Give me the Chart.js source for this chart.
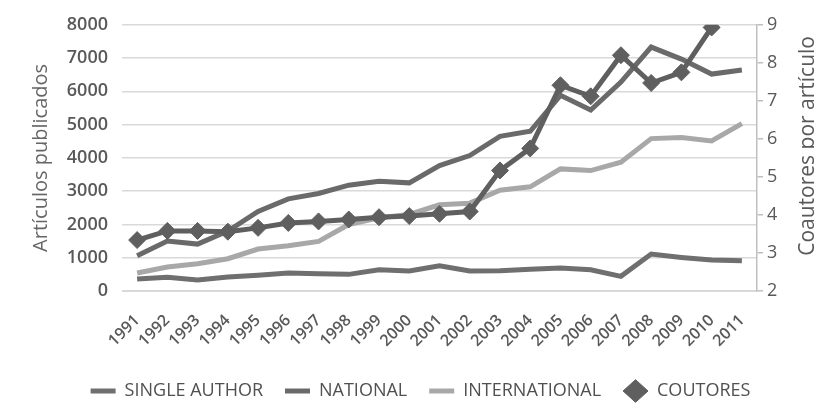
<!DOCTYPE html>
<html>
<head>
<meta charset="utf-8">
<script src="https://cdn.jsdelivr.net/npm/chart.js@4/dist/chart.umd.min.js"></script>
<style>
    html, body { margin: 0; padding: 0; background: #ffffff; }
    #wrap { width: 814px; height: 406px; }
</style>
</head>
<body>
<div id="wrap"><canvas id="mainChart" width="814" height="406"></canvas></div>
<script>
// ================= DATA =================
const years = ["1991", "1992", "1993", "1994", "1995", "1996", "1997", "1998", "1999", "2000",
    "2001", "2002", "2003", "2004", "2005", "2006", "2007", "2008", "2009", "2010", "2011"];

const singleAuthor = [360, 410, 330, 420, 470, 540, 520, 500, 640, 600,
    760, 600, 610, 650, 690, 640, 440, 1110, 1010, 930, 910];

const national = [1060, 1500, 1410, 1800, 2390, 2770, 2930, 3180, 3300, 3250,
    3770, 4070, 4650, 4800, 5880, 5440, 6280, 7330, 6970, 6520, 6640];

const international = [540, 720, 820, 970, 1260, 1360, 1490, 2000, 2200, 2300,
    2590, 2640, 3030, 3130, 3670, 3620, 3870, 4580, 4610, 4510, 5030];

// coautores por articulo (eje derecho), no hay valor para 2011
const coutores = [3.34, 3.58, 3.58, 3.56, 3.66, 3.79, 3.83, 3.88, 3.94, 3.97,
    4.03, 4.09, 5.17, 5.75, 7.41, 7.12, 8.20, 7.47, 7.75, 8.93, null];

const leftTitle = "Artículos publicados";
const rightTitle = "Coautores por artículo";

// ================= STYLE =================
const textGray = "#595959";
const gridGray = "#d9d9d9";

// right axis title reads bottom-to-top like the left one
const rightTitlePlugin = {
    id: "rightTitle",
    afterDraw(chart) {
        const ctx = chart.ctx;
        const area = chart.chartArea;
        ctx.save();
        ctx.translate(814, (area.top + area.bottom) / 2 - 12);
        ctx.rotate(-Math.PI / 2);
        ctx.font = "21px 'Open Sans'";
        ctx.fillStyle = textGray;
        ctx.textAlign = "center";
        ctx.textBaseline = "alphabetic";
        ctx.fillText(rightTitle, 0, 0);
        ctx.restore();
    }
};

// ================= CHART =================
window.onload = function () {
    new Chart(document.getElementById("mainChart"), {
        type: "line",
        data: {
            labels: years,
            datasets: [
                {
                    label: "SINGLE AUTHOR",
                    data: singleAuthor,
                    borderColor: "#6f6f6f",
                    backgroundColor: "#6f6f6f",
                    borderWidth: 5,
                    pointRadius: 0,
                    pointStyle: "line",
                    yAxisID: "y",
                    order: 3
                },
                {
                    label: "NATIONAL",
                    data: national,
                    borderColor: "#6a6a6a",
                    backgroundColor: "#6a6a6a",
                    borderWidth: 5,
                    pointRadius: 0,
                    pointStyle: "line",
                    yAxisID: "y",
                    order: 2
                },
                {
                    label: "INTERNATIONAL",
                    data: international,
                    borderColor: "#a8a8a8",
                    backgroundColor: "#a8a8a8",
                    borderWidth: 5,
                    pointRadius: 0,
                    pointStyle: "line",
                    yAxisID: "y",
                    order: 1
                },
                {
                    label: "COUTORES",
                    data: coutores,
                    borderColor: "#5f5f5f",
                    backgroundColor: "#5f5f5f",
                    borderWidth: 5,
                    pointRadius: 8.5,
                    pointStyle: "rectRot",
                    pointBorderWidth: 1,
                    yAxisID: "y1",
                    order: 0
                }
            ]
        },
        options: {
            responsive: false,
            animation: false,
            layout: { padding: { left: 27, right: 0, top: 20, bottom: -4 } },
            plugins: {
                tooltip: { enabled: false },
                legend: {
                    position: "bottom",
                    labels: {
                        usePointStyle: true,
                        pointStyleWidth: 25,
                        boxHeight: 16,
                        padding: 22,
                        color: "#505050",
                        font: { family: "'Open Sans'", size: 18 },
                        sort: (a, b) => a.datasetIndex - b.datasetIndex
                    }
                }
            },
            scales: {
                x: {
                    offset: true,
                    grid: { display: false },
                    border: { display: true, color: gridGray },
                    ticks: {
                        autoSkip: false,
                        color: textGray,
                        font: { family: "'Open Sans'", size: 16, weight: "600" },
                        minRotation: 45,
                        maxRotation: 45,
                        padding: 12
                    },
                    afterFit: (scale) => { scale.height = 69; }
                },
                y: {
                    position: "left",
                    min: 0,
                    max: 8000,
                    ticks: {
                        stepSize: 1000,
                        color: textGray,
                        padding: 14,
                        format: { useGrouping: false },
                        font: { family: "'Open Sans'", size: 18, weight: "600" }
                    },
                    grid: { color: gridGray, lineWidth: 1.5, drawTicks: false },
                    border: { display: false },
                    title: {
                        display: true,
                        text: leftTitle,
                        color: "#666666",
                        padding: { top: 2, bottom: 0 },
                        font: { family: "'Open Sans'", size: 20 }
                    },
                    afterFit: (scale) => { scale.width = 95; }
                },
                y1: {
                    position: "right",
                    min: 2,
                    max: 9,
                    ticks: {
                        stepSize: 1,
                        color: textGray,
                        padding: 4,
                        font: { family: "'Open Sans'", size: 18 }
                    },
                    grid: { drawOnChartArea: false, drawTicks: true, tickLength: 6, color: "#bfbfbf", lineWidth: 1.5 },
                    border: { display: true, color: "#bfbfbf", width: 1.5 },
                    afterFit: (scale) => { scale.width = 57; }
                }
            }
        },
        plugins: [rightTitlePlugin]
    });
};
</script>
</body>
</html>
